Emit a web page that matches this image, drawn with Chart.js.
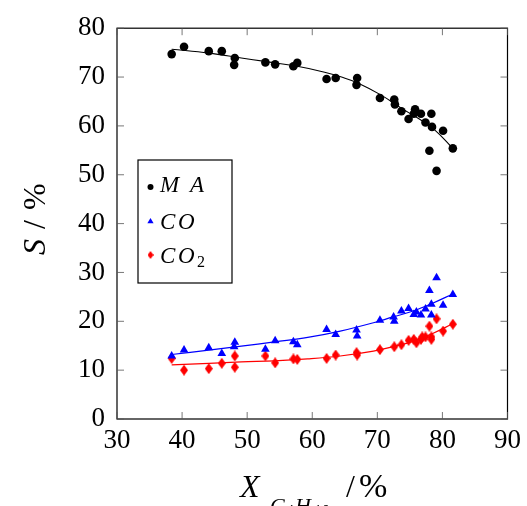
<!DOCTYPE html>
<html>
<head>
<meta charset="utf-8">
<script src="https://cdn.jsdelivr.net/npm/chart.js@4.4.0/dist/chart.umd.min.js"></script>
<style>
    html, body { margin: 0; padding: 0; background: #fff; }
    canvas { display: block; }
</style>
</head>
<body>
<canvas id="chart" width="527" height="506"></canvas>
<script>
// conversion X (%) for each measurement, shared by the three series
const convX = [38.4, 40.3, 44.1, 46.1, 48.1, 48.0, 52.8, 54.3, 57.1, 57.7, 62.2, 63.6, 66.9, 66.8,
    70.4, 72.6, 72.7, 73.7, 74.8, 75.8, 75.6, 76.7, 77.4, 78.3, 78.4, 80.1, 78.0, 79.1, 81.6];

const maY = [74.7, 76.2, 75.3, 75.3, 73.9, 72.5, 73.0, 72.6, 72.2, 72.9, 69.6, 69.8, 69.8, 68.4,
    65.7, 65.4, 64.4, 63.0, 61.4, 63.4, 62.5, 62.5, 60.7, 62.5, 59.8, 59.0, 54.9, 50.8, 55.4];

const coX = [38.4, 40.3, 44.1, 46.1, 48.1, 48.0, 52.8, 54.3, 57.1, 57.7, 62.2, 63.6, 66.8, 66.9,
    70.4, 72.5, 72.6, 73.7, 74.8, 75.6, 76.0, 76.7, 77.4, 78.0, 78.3, 78.3, 79.1, 80.1, 81.6];
const coY = [12.9, 14.1, 14.6, 13.4, 15.7, 14.8, 14.3, 16.0, 15.8, 15.2, 18.3, 17.3, 18.2, 17.0,
    20.2, 20.9, 20.0, 22.1, 22.6, 21.4, 21.9, 21.3, 22.5, 26.3, 23.5, 21.3, 28.9, 23.3, 25.5];

const co2X = [38.4, 40.3, 44.1, 46.1, 48.1, 48.1, 52.8, 54.3, 57.1, 57.7, 62.2, 63.6, 66.8, 66.9,
    70.4, 72.6, 73.7, 74.8, 75.6, 76.0, 76.7, 76.9, 77.4, 78.0, 78.3, 78.3, 79.1, 80.1, 81.6];
const co2Y = [12.4, 10.0, 10.3, 11.4, 12.9, 10.6, 12.9, 11.5, 12.3, 12.2, 12.4, 13.1, 13.6, 13.1,
    14.2, 14.8, 15.2, 16.1, 16.3, 15.6, 16.3, 16.8, 16.8, 19.0, 16.8, 16.3, 20.5, 18.0, 19.4];

// fitted curves
const maFitX = [38.4, 44.1, 49.1, 52.7, 57.3, 61.9, 64.5, 67.0, 70.6, 73.7, 76.2, 78.8, 81.6];
const maFitY = [75.7, 74.9, 73.9, 73.2, 72.3, 71.0, 70.0, 68.8, 66.3, 63.6, 61.6, 59.2, 55.4];
const coFitX = [38.4, 44.1, 49.1, 54.2, 59.3, 64.3, 69.4, 72.4, 75.5, 78.5, 81.6];
const coFitY = [13.2, 14.1, 14.9, 15.8, 16.7, 18.0, 19.7, 20.9, 22.1, 23.7, 25.6];
const co2FitX = [38.4, 44.1, 49.1, 54.2, 59.3, 64.3, 69.4, 72.4, 75.5, 78.5, 81.6];
const co2FitY = [11.1, 11.4, 11.7, 11.9, 12.3, 12.9, 13.9, 14.8, 15.9, 17.5, 19.5];

const xTicks = [30, 40, 50, 60, 70, 80, 90];
const yTicks = [0, 10, 20, 30, 40, 50, 60, 70, 80];

const BLUE = '#0000ff';
const RED = '#ff0000';
const SERIF = "'Liberation Serif', 'DejaVu Serif', serif";

function pts(xs, ys) {
    return xs.map((x, i) => ({ x: x, y: ys[i] }));
}

// tall diamond like the tikz marker
function diamond(w, h, color) {
    const c = document.createElement('canvas');
    c.width = w; c.height = h;
    const g = c.getContext('2d');
    g.fillStyle = color;
    g.beginPath();
    g.moveTo(w / 2, 0);
    g.lineTo(w, h / 2);
    g.lineTo(w / 2, h);
    g.lineTo(0, h / 2);
    g.closePath();
    g.fill();
    return c;
}
const diamondBig = diamond(8, 11, RED);
const diamondSmall = diamond(6, 8, RED);

function drawParts(ctx, x, y, parts) {
    parts.forEach(p => {
        ctx.font = p.font;
        ctx.fillText(p.text, x + p.dx, y + (p.dy || 0));
    });
}

const framePlugin = {
    id: 'frame',
    afterDraw(chart) {
        const ctx = chart.ctx;
        const a = chart.chartArea;
        const sx = chart.scales.x, sy = chart.scales.y;
        ctx.save();
        ctx.strokeStyle = '#000';
        ctx.lineWidth = 1.2;
        ctx.strokeRect(a.left, a.top, a.right - a.left, a.bottom - a.top);

        ctx.lineWidth = 0.8;
        ctx.strokeStyle = '#555';
        const tl = 7;
        ctx.beginPath();
        xTicks.forEach(v => {
            const px = sx.getPixelForValue(v);
            ctx.moveTo(px, a.bottom); ctx.lineTo(px, a.bottom - tl);
            ctx.moveTo(px, a.top); ctx.lineTo(px, a.top + tl);
        });
        yTicks.forEach(v => {
            const py = sy.getPixelForValue(v);
            ctx.moveTo(a.left, py); ctx.lineTo(a.left + tl, py);
            ctx.moveTo(a.right, py); ctx.lineTo(a.right - tl, py);
        });
        ctx.stroke();

        // legend
        const lx = 138, ly = 160;
        ctx.fillStyle = '#fff';
        ctx.fillRect(lx, ly, 94, 123);
        ctx.strokeStyle = '#000';
        ctx.lineWidth = 1.2;
        ctx.strokeRect(lx, ly, 94, 123);

        const H = Chart.helpers;
        ctx.fillStyle = '#000'; ctx.strokeStyle = '#000';
        H.drawPoint(ctx, { pointStyle: 'circle', radius: 3, rotation: 0, borderWidth: 0 }, 150.5, 187);
        ctx.fillStyle = BLUE; ctx.strokeStyle = BLUE;
        H.drawPoint(ctx, { pointStyle: 'triangle', radius: 3.6, rotation: 0, borderWidth: 0 }, 150.5, 221.5);
        ctx.drawImage(diamondSmall, 150.5 - 3, 255 - 4);

        ctx.fillStyle = '#000';
        ctx.textAlign = 'left';
        ctx.textBaseline = 'alphabetic';
        const it = 'italic 23px ' + SERIF;
        drawParts(ctx, 160, 192, [
            { text: 'M', font: it, dx: 0 },
            { text: 'A', font: it, dx: 30 }
        ]);
        drawParts(ctx, 160, 229, [
            { text: 'C', font: it, dx: 0 },
            { text: 'O', font: it, dx: 18 }
        ]);
        drawParts(ctx, 160, 263, [
            { text: 'C', font: it, dx: 0 },
            { text: 'O', font: it, dx: 18 },
            { text: '2', font: '16px ' + SERIF, dx: 37, dy: 4 }
        ]);

        // x axis title
        const big = 'italic 32px ' + SERIF;
        drawParts(ctx, 240, 497, [
            { text: 'X', font: big, dx: 0 },
            { text: 'C', font: 'italic 22px ' + SERIF, dx: 30, dy: 16 },
            { text: '4', font: '16px ' + SERIF, dx: 46, dy: 19 },
            { text: 'H', font: 'italic 22px ' + SERIF, dx: 55, dy: 16 },
            { text: '10', font: '16px ' + SERIF, dx: 74, dy: 19 },
            { text: '/', font: '32px ' + SERIF, dx: 106 },
            { text: '%', font: '34px ' + SERIF, dx: 119 }
        ]);

        // y axis title
        ctx.translate(45, 255);
        ctx.rotate(-Math.PI / 2);
        drawParts(ctx, 0, 0, [
            { text: 'S', font: big, dx: 0 },
            { text: '/', font: '32px ' + SERIF, dx: 26 },
            { text: '%', font: '32px ' + SERIF, dx: 45 }
        ]);
        ctx.restore();
    }
};

const tickFont = { family: SERIF, size: 27 };

new Chart(document.getElementById('chart'), {
    type: 'scatter',
    data: {
        datasets: [
            {
                label: 'MA',
                data: pts(convX, maY),
                backgroundColor: '#000',
                borderColor: '#000',
                pointStyle: 'circle',
                pointRadius: 4.3,
                pointBorderWidth: 0
            },
            {
                label: 'CO',
                data: pts(coX, coY),
                backgroundColor: BLUE,
                borderColor: BLUE,
                pointStyle: 'triangle',
                pointRadius: 5,
                pointBorderWidth: 0
            },
            {
                label: 'CO2',
                data: pts(co2X, co2Y),
                backgroundColor: RED,
                borderColor: RED,
                pointStyle: diamondBig,
                pointRadius: 4.5
            },
            {
                label: 'MA fit',
                data: pts(maFitX, maFitY),
                showLine: true,
                borderColor: '#000',
                borderWidth: 1.1,
                pointRadius: 0,
                tension: 0.4
            },
            {
                label: 'CO fit',
                data: pts(coFitX, coFitY),
                showLine: true,
                borderColor: BLUE,
                borderWidth: 1.2,
                pointRadius: 0,
                tension: 0.4
            },
            {
                label: 'CO2 fit',
                data: pts(co2FitX, co2FitY),
                showLine: true,
                borderColor: RED,
                borderWidth: 1.2,
                pointRadius: 0,
                tension: 0.4
            }
        ]
    },
    options: {
        responsive: false,
        animation: false,
        devicePixelRatio: 1,
        layout: { padding: { left: 0, right: 15, top: 26, bottom: 0 } },
        plugins: {
            legend: { display: false },
            tooltip: { enabled: false }
        },
        scales: {
            x: {
                type: 'linear',
                min: 30,
                max: 90,
                afterBuildTicks: s => { s.ticks = xTicks.map(v => ({ value: v })); },
                ticks: { font: tickFont, color: '#000', padding: 6, maxRotation: 0 },
                grid: { display: false, drawTicks: false },
                border: { display: false },
                afterFit: s => { s.height = 87; }
            },
            y: {
                min: 0,
                max: 80,
                afterBuildTicks: s => { s.ticks = yTicks.map(v => ({ value: v })); },
                ticks: { font: tickFont, color: '#000', padding: 12 },
                grid: { display: false, drawTicks: false },
                border: { display: false },
                afterFit: s => { s.width = 117; }
            }
        }
    },
    plugins: [framePlugin]
});
</script>
</body>
</html>
